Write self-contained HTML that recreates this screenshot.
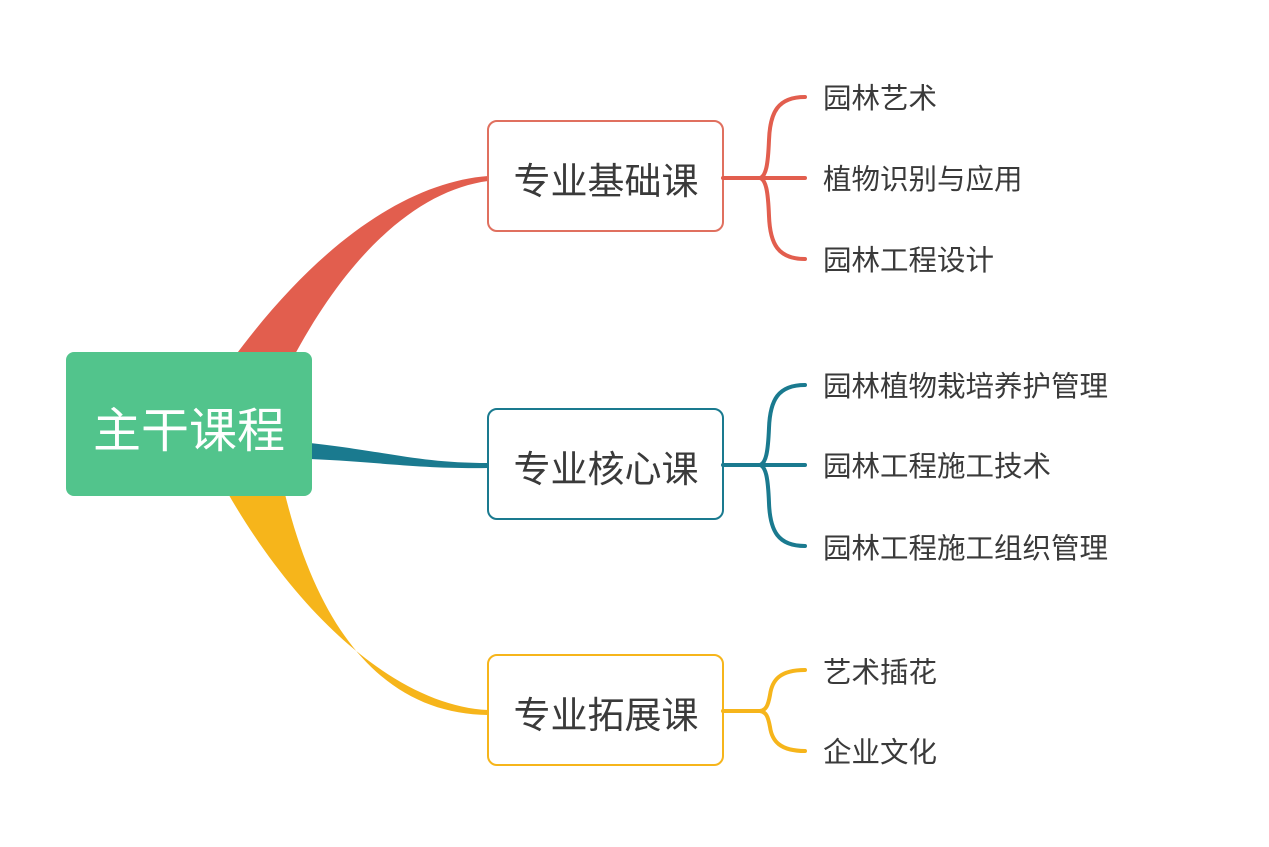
<!DOCTYPE html>
<html><head><meta charset="utf-8"><style>
html,body{margin:0;padding:0;background:#fff;}
svg{display:block;}
text{font-family:"Liberation Sans","Noto Sans CJK SC",sans-serif;}
</style></head><body>
<svg width="1269" height="847" viewBox="0 0 1269 847" xmlns="http://www.w3.org/2000/svg">
<rect width="1269" height="847" fill="#fff"/>
<path d="M232 360 C320 240 410 182 488 176 L488 181 C420 190 350 250 292 360 Z" fill="#e25e4e"/>
<path d="M310 443 C390 452 420 463 488 463 L488 468 C420 469 380 462 310 459 Z" fill="#1a7a8f"/>
<path d="M226 490 C300 620 400 706 488 710 L488 715 C390 714 320 640 284 490 Z" fill="#f6b51b"/>
<rect x="66" y="352" width="246" height="144" rx="8" fill="#52c48c"/>
<text x="189" y="447" font-size="48" fill="#fff" text-anchor="middle">主干课程</text>
<g fill="#fff" stroke-width="2">
<rect x="488" y="121" width="235" height="110" rx="9" stroke="#e0705f"/>
<rect x="488" y="409" width="235" height="110" rx="9" stroke="#1a7a8f"/>
<rect x="488" y="655" width="235" height="110" rx="9" stroke="#f6b51b"/>
</g>
<g font-size="37" fill="#3a3a3a" text-anchor="middle">
<text x="606" y="194">专业基础课</text>
<text x="606" y="482">专业核心课</text>
<text x="606" y="728">专业拓展课</text>
</g>
<g fill="none" stroke-width="4" stroke-linecap="round">
<g stroke="#e25e4e">
<path d="M723 178 L805 178"/>
<path d="M805 97 C778 97 770 112 769 140 C768 165 766 176 760 178"/>
<path d="M805 259 C778 259 770 244 769 216 C768 191 766 180 760 178"/>
</g>
<g stroke="#1a7a8f">
<path d="M723 465 L805 465"/>
<path d="M805 385 C778 385 770 400 769 428 C768 452 766 463 760 465"/>
<path d="M805 546 C778 546 770 531 769 503 C768 478 766 467 760 465"/>
</g>
<g stroke="#f6b51b">
<path d="M723 711 L760 711"/>
<path d="M805 670 C780 670 772 680 770 695 C768 706 766 710 760 711"/>
<path d="M805 751 C780 751 772 741 770 727 C768 716 766 712 760 711"/>
</g>
</g>
<g font-size="28.5" fill="#3a3a3a">
<text x="823" y="108">园林艺术</text>
<text x="823" y="189">植物识别与应用</text>
<text x="823" y="270">园林工程设计</text>
<text x="823" y="396">园林植物栽培养护管理</text>
<text x="823" y="476">园林工程施工技术</text>
<text x="823" y="558">园林工程施工组织管理</text>
<text x="823" y="682">艺术插花</text>
<text x="823" y="762">企业文化</text>
</g>
</svg>
</body></html>
